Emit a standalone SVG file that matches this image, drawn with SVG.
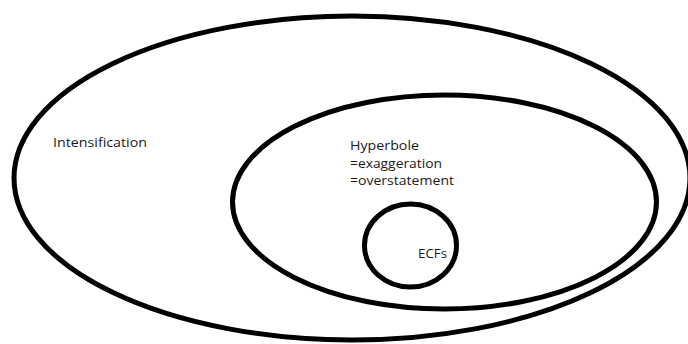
<svg xmlns="http://www.w3.org/2000/svg" width="688" height="344" viewBox="0 0 688 344">
<style>
.set{fill:none;stroke:#000;stroke-width:5}
.lbl{font-family:"Open Sans","Liberation Sans",sans-serif;font-size:13px;fill:#1a1a1a}
</style>
<rect width="688" height="344" fill="#fff"/>
<g id="intensification">
<ellipse class="set" cx="352" cy="178" rx="338" ry="162"/>
<text class="lbl" x="53" y="147" textLength="94" lengthAdjust="spacingAndGlyphs">Intensification</text>
</g>
<g id="hyperbole">
<ellipse class="set" cx="444.5" cy="202" rx="212" ry="107"/>
<text class="lbl" x="350" y="150" textLength="69" lengthAdjust="spacingAndGlyphs">Hyperbole</text>
<text class="lbl" x="350" y="167.5" textLength="92" lengthAdjust="spacingAndGlyphs">=exaggeration</text>
<text class="lbl" x="350" y="185" textLength="104" lengthAdjust="spacingAndGlyphs">=overstatement</text>
</g>
<g id="ecfs">
<ellipse class="set" cx="410.5" cy="245.5" rx="46" ry="41.5"/>
<text class="lbl" x="418" y="258" textLength="29" lengthAdjust="spacingAndGlyphs">ECFs</text>
</g>
<g id="connectors"/>
</svg>
